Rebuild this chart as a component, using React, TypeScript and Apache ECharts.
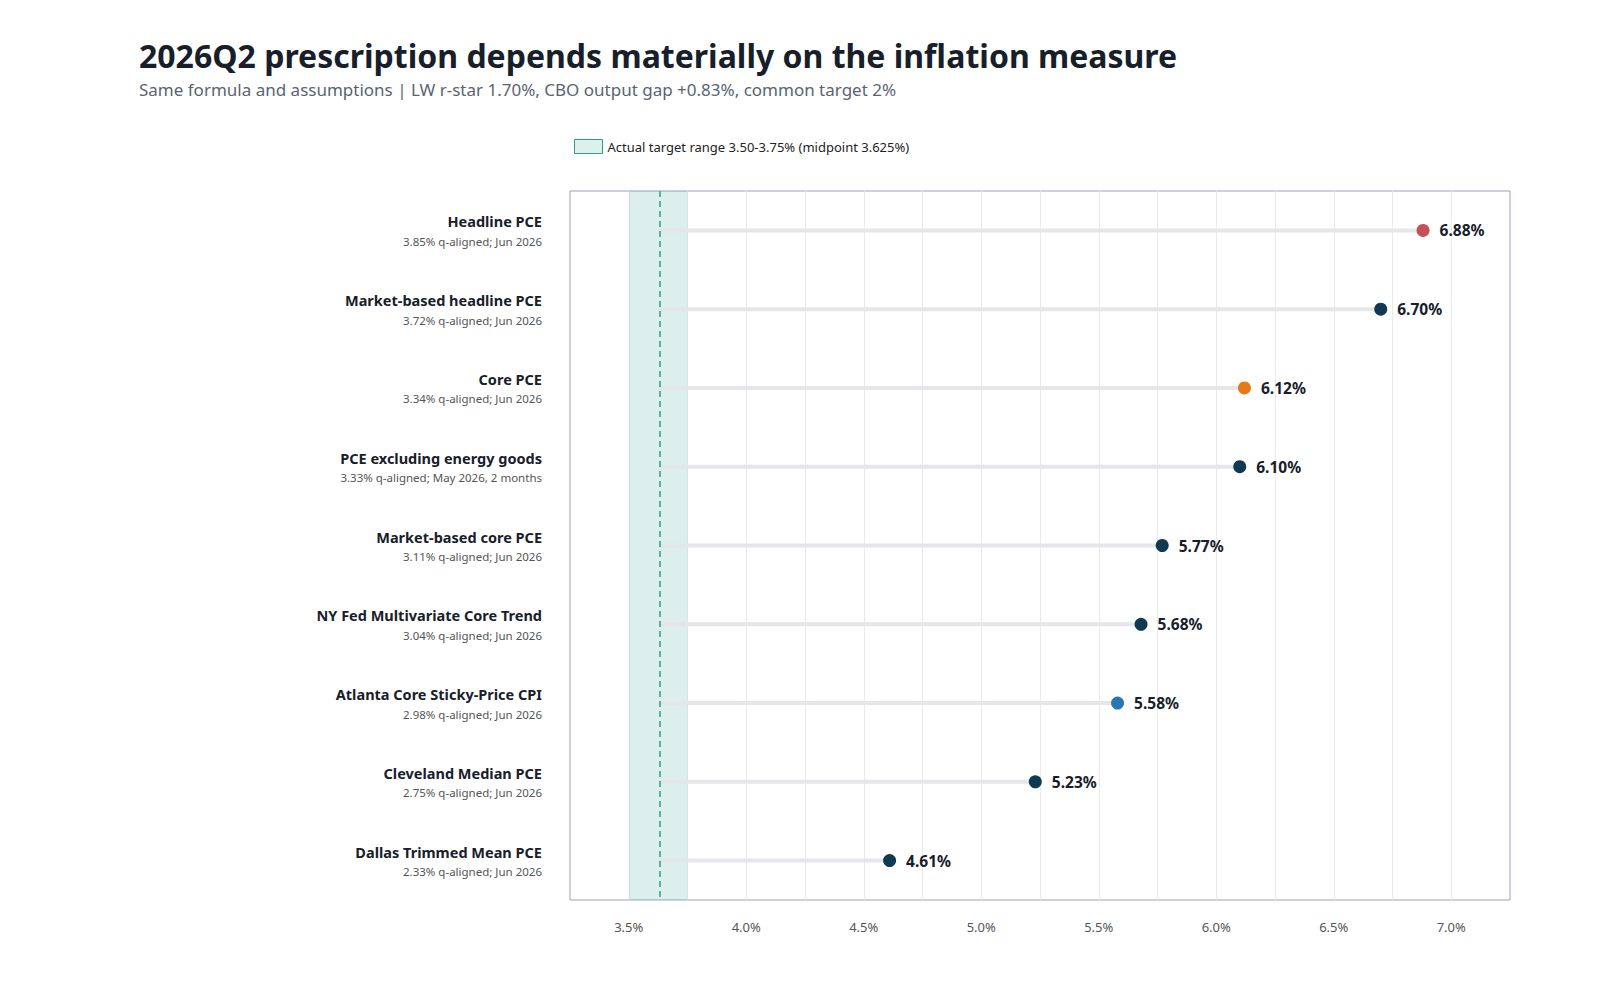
import React, { useEffect, useRef } from "react";
import * as echarts from "echarts";

const names = ["Headline PCE","Market-based headline PCE","Core PCE","PCE excluding energy goods","Market-based core PCE","NY Fed Multivariate Core Trend","Atlanta Core Sticky-Price CPI","Cleveland Median PCE","Dallas Trimmed Mean PCE"];
const notes = ["3.85% q-aligned; Jun 2026","3.72% q-aligned; Jun 2026","3.34% q-aligned; Jun 2026","3.33% q-aligned; May 2026, 2 months","3.11% q-aligned; Jun 2026","3.04% q-aligned; Jun 2026","2.98% q-aligned; Jun 2026","2.75% q-aligned; Jun 2026","2.33% q-aligned; Jun 2026"];
const values = [6.88, 6.70, 6.12, 6.10, 5.77, 5.68, 5.58, 5.23, 4.61];
const colors = ["#c4505a","#0f3a52","#e67a17","#0f3a52","#0f3a52","#0f3a52","#2a76b3","#0f3a52","#0f3a52"];
const midpoint = 3.625;
const rangeLo = 3.5, rangeHi = 3.75;

const FONT = "'Noto Sans', 'Open Sans', sans-serif";

export default function App() {
  const ref = useRef<HTMLDivElement>(null);
  useEffect(() => {
    const chart = echarts.init(ref.current!, null, { renderer: "svg" });
    chart.setOption({
      animation: false,
      textStyle: { fontFamily: FONT },
      title: {
        text: "2026Q2 prescription depends materially on the inflation measure",
        subtext: "Same formula and assumptions | LW r-star 1.70%, CBO output gap +0.83%, common target 2%",
        left: 126, top: 26,
        textStyle: { fontSize: 32, fontWeight: "bold", color: "#17202a", fontFamily: FONT },
        subtextStyle: { fontSize: 17, color: "#5a6470", fontFamily: FONT },
        itemGap: 10,
      },
      legend: {
        left: 561, top: 126, itemWidth: 28, itemHeight: 14,
        textStyle: { fontSize: 13, color: "#222", fontFamily: FONT },
        data: [{ name: "Actual target range 3.50-3.75% (midpoint 3.625%)", icon: "rect", itemStyle: { color: "#dcf0ec", borderColor: "#2a9d8f", borderWidth: 1 } }],
        selectedMode: false,
      },
      grid: { left: 562, right: 82, top: 183, bottom: 92, show: true, borderColor: "#9aa3b5", borderWidth: 1 },
      xAxis: {
        type: "value", min: 3.25, max: 7.25, interval: 0.25,
        axisLine: { show: false }, axisTick: { show: false },
        splitLine: { show: true, lineStyle: { color: "#e8eaee" }, showMinLine: false, showMaxLine: false },
        axisLabel: {
          color: "#555", fontSize: 13, margin: 20,
          formatter: (v: number) => (Math.abs((v * 2) % 1) < 1e-9 ? v.toFixed(1) + "%" : ""),
        },
      },
      yAxis: {
        type: "category", inverse: true, data: names,
        axisLine: { show: false }, axisTick: { show: false },
        axisLabel: {
          margin: 28,
          formatter: (v: string, i: number) => `{n|${v}}\n{s|${notes[i]}}`,
          rich: {
            n: { fontSize: 14.5, fontWeight: "bold", color: "#17202a", align: "right", lineHeight: 22, fontFamily: FONT },
            s: { fontSize: 11.5, color: "#555", align: "right", lineHeight: 18, fontFamily: FONT },
          },
        },
      },
      series: [
        { type: "bar", stack: "a", data: values.map(() => midpoint), itemStyle: { color: "transparent" }, barWidth: 4, silent: true, z: 1 },
        {
          name: "Actual target range 3.50-3.75% (midpoint 3.625%)",
          type: "bar", stack: "a", data: values.map(v => v - midpoint), itemStyle: { color: "#e4e6ea" }, barWidth: 4, silent: true, z: 1,
          markArea: { silent: true, itemStyle: { color: "rgba(42,157,143,0.16)" }, data: [[{ xAxis: rangeLo }, { xAxis: rangeHi }]] },
          markLine: { silent: true, symbol: "none", label: { show: false }, lineStyle: { color: "#2a9d8f", type: [6, 4], width: 1.5 }, data: [{ xAxis: midpoint }] },
        },
        {
          type: "scatter", symbolSize: 13, z: 5,
          data: values.map((v, i) => ({ value: [v, i], itemStyle: { color: colors[i], opacity: 1 } })),
          label: { show: true, position: "right", distance: 10, formatter: (p: any) => p.value[0].toFixed(2) + "%", fontSize: 15.5, fontWeight: "bold", color: "#17202a", fontFamily: FONT },
        },
      ],
    });
    return () => chart.dispose();
  }, []);
  return <div ref={ref} style={{ width: 1584, height: 984 }} />;
}
